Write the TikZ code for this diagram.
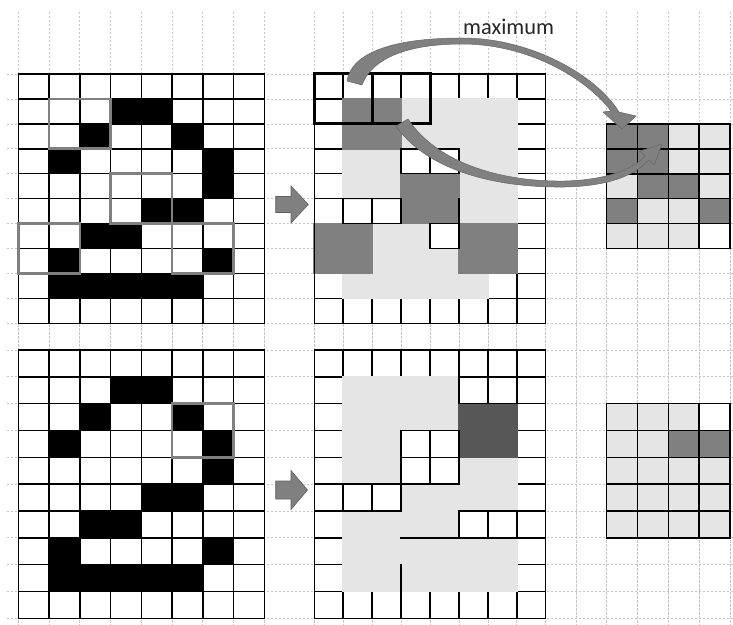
\documentclass[tikz,border=0pt]{standalone}
\usepackage{fontspec}
\newfontfamily\labelfont{Carlito}
\begin{document}
\begin{tikzpicture}[x=1bp,y=-1bp,
  bgline/.style={draw=black!22, line width=0.7bp, dash pattern=on 2.5bp off 1.5bp},
  gridline/.style={draw=black, line width=1.5bp, line cap=rect},
  blackcell/.style={fill=black},
  lightcell/.style={fill=black!10},
  darkcell/.style={fill=black!50},
  darkercell/.style={fill=black!66},
  kernelbox/.style={draw=black!50, line width=2.6bp},
  poolbox/.style={draw=black, line width=3bp},
  blockarrow/.style={fill=black!50, draw=black!62, line width=0.6bp},
  bandarrow/.style={fill=black!50, draw=black!60, line width=0.5bp, line join=round},
]
\def\shadeov{0.9bp}
\useasboundingbox (0,0) rectangle (733,625);
\fill[white] (0,0) rectangle (733,625);

% background sheet grid
\foreach \x in {18.3,49.05,79.8,110.55,141.3,172.05,202.8,233.55,264.3,314.3,343.2,372.15,401.1,430,458.9,487.85,516.8,545.7,576.2,606.7,637.5,668.35,699.2,730}
  \draw[bgline] (\x,12) -- (\x,625);
\foreach \y in {74,98.9,123.9,148.8,173.7,198.7,223.6,248.5,273.4,298.4,323.3,350,376.8,403.7,430.5,457.3,484.2,511,537.8,564.6,591.5,618.3}
  \draw[bgline] (6.7,\y) -- (733,\y);

% ---------- left grids ----------
\foreach \yo/\hh in {74/24.93,350/26.83}{
\begin{scope}[shift={(18.3,\yo)},x=30.75bp,y=-\hh bp]
  \fill[white] (0,0) rectangle (8,10);
  \foreach \c/\r in {3/1,4/1,2/2,5/2,1/3,6/3,6/4,4/5,5/5,2/6,3/6,1/7,6/7,1/8,2/8,3/8,4/8,5/8}
    \fill[blackcell] (\c,\r) rectangle ++(1,1);
  \foreach \i in {0,...,8} \draw[gridline] (\i,0) -- (\i,10);
  \foreach \j in {0,...,10} \draw[gridline] (0,\j) -- (8,\j);
\end{scope}
}
\begin{scope}[shift={(18.3,74)},x=30.75bp,y=-24.93bp]
  \draw[kernelbox] (1,1) rectangle (3,3);
  \draw[kernelbox] (3,4) rectangle (5,6);
  \draw[kernelbox] (0,6) rectangle (2,8);
  \draw[kernelbox] (5,6) rectangle (7,8);
\end{scope}
\begin{scope}[shift={(18.3,350)},x=30.75bp,y=-26.83bp]
  \draw[kernelbox] (5,2) rectangle (7,4);
\end{scope}

% ---------- middle top ----------
\begin{scope}[shift={(314.3,74)},x=28.925bp,y=-24.93bp]
  \fill[white] (0,0) rectangle (8,10);
  \foreach \i in {0,...,8} \draw[gridline] (\i,0) -- (\i,10);
  \foreach \j in {0,...,10} \draw[gridline] (0,\j) -- (8,\j);
  \foreach \c/\r in {3/1,4/1,5/1,6/1,3/2,4/2,5/2,6/2,1/3,2/3,5/3,6/3,1/4,2/4,5/4,6/4,5/5,6/5,2/6,3/6,2/7,3/7,4/7,1/8,2/8,3/8,4/8,5/8}
    \fill[lightcell] ([xshift=-\shadeov,yshift=\shadeov]\c,\r) rectangle ([xshift=\shadeov,yshift=-\shadeov]{\c+1},{\r+1});
  \foreach \c/\r in {1/1,2/1,1/2,2/2,3/4,4/4,3/5,4/5,0/6,1/6,0/7,1/7,5/6,6/6,5/7,6/7}
    \fill[darkcell] ([xshift=-\shadeov,yshift=\shadeov]\c,\r) rectangle ([xshift=\shadeov,yshift=-\shadeov]{\c+1},{\r+1});
  \foreach \c/\r in {3/3,4/3,1/5,2/5,4/6}
    \draw[gridline] (\c,\r) rectangle ++(1,1);
  \draw[gridline] (5,5) -- (5,6);
  \draw[gridline] (0,0) rectangle (8,10);
  \draw[poolbox] (0,0) rectangle (2,2);
  \draw[poolbox] (2,0) rectangle (4,2);
\end{scope}

% ---------- middle bottom ----------
\begin{scope}[shift={(314.3,350)},x=28.925bp,y=-26.83bp]
  \fill[white] (0,0) rectangle (8,10);
  \foreach \i in {0,...,8} \draw[gridline] (\i,0) -- (\i,10);
  \foreach \j in {0,...,10} \draw[gridline] (0,\j) -- (8,\j);
  \foreach \c/\r in {1/1,2/1,3/1,4/1,1/2,2/2,3/2,4/2,1/3,2/3,1/4,2/4,5/4,6/4,3/5,4/5,5/5,6/5,1/6,2/6,3/6,4/6,1/7,2/7,3/7,4/7,5/7,6/7,1/8,2/8,3/8,4/8,5/8,6/8}
    \fill[lightcell] ([xshift=-\shadeov,yshift=\shadeov]\c,\r) rectangle ([xshift=\shadeov,yshift=-\shadeov]{\c+1},{\r+1});
  \foreach \c/\r in {5/2,6/2,5/3,6/3}
    \fill[darkercell] ([xshift=-\shadeov,yshift=\shadeov]\c,\r) rectangle ([xshift=\shadeov,yshift=-\shadeov]{\c+1},{\r+1});
  \foreach \c/\r in {5/1,6/1,3/3,4/3,3/4,4/4,1/5,2/5,5/6,6/6}
    \draw[gridline] (\c,\r) rectangle ++(1,1);
  \draw[gridline] (3,7) -- (5,7);
  \draw[gridline] (3,8) -- (3,9);
  \draw[gridline] (0,0) rectangle (8,10);
\end{scope}

% ---------- right grids ----------
\begin{scope}[shift={(606.7,123.9)},x=30.825bp,y=-24.93bp]
  \fill[white] (0,0) rectangle (4,5);
  \foreach \c/\r in {2/0,3/0,2/1,3/1,0/2,3/2,1/3,2/3,0/4,1/4,2/4}
    \fill[lightcell] (\c,\r) rectangle ++(1,1);
  \foreach \c/\r in {0/0,1/0,0/1,1/1,1/2,2/2,0/3,3/3}
    \fill[darkcell] (\c,\r) rectangle ++(1,1);
  \foreach \i in {0,...,4} \draw[gridline] (\i,0) -- (\i,5);
  \foreach \j in {0,...,5} \draw[gridline] (0,\j) -- (4,\j);
\end{scope}
\begin{scope}[shift={(606.7,403.7)},x=30.825bp,y=-26.83bp]
  \fill[white] (0,0) rectangle (4,5);
  \foreach \c/\r in {0/0,1/0,2/0,0/1,1/1,0/2,1/2,2/2,3/2,0/3,1/3,2/3,3/3,0/4,1/4,2/4,3/4}
    \fill[lightcell] (\c,\r) rectangle ++(1,1);
  \foreach \c/\r in {2/1,3/1}
    \fill[darkcell] (\c,\r) rectangle ++(1,1);
  \foreach \i in {0,...,4} \draw[gridline] (\i,0) -- (\i,5);
  \foreach \j in {0,...,5} \draw[gridline] (0,\j) -- (4,\j);
\end{scope}

% ---------- block arrows ----------
\draw[blockarrow] (275.7,196.5) -- (291,196.5) -- (291,186) -- (308.3,204.5)
  -- (291,223) -- (291,212.5) -- (275.7,212.5) -- cycle;
\draw[blockarrow] (275.7,481) -- (291,481) -- (291,470.5) -- (307.5,490)
  -- (291,509.5) -- (291,499) -- (275.7,499) -- cycle;

% ---------- curved arrows ----------
\draw[bandarrow] (347,81) .. controls (352,50) and (400,38) .. (462,38)
  .. controls (532,38) and (597,76) .. (619,112)
  -- (636,116) -- (622,129) -- (603,112) -- (611,111)
  .. controls (586,78) and (528,44) .. (462,44)
  .. controls (408,44) and (372,58) .. (362,85) -- cycle;
\draw[bandarrow] (396,126) .. controls (425,168) and (490,188) .. (565,187)
  .. controls (610,186) and (635,175) .. (648.8,159.8)
  -- (654.2,165) -- (662,144) -- (639.8,151) -- (645.2,156.2)
  .. controls (632,170) and (605,180) .. (565,181)
  .. controls (495,182) and (435,160) .. (408,119) -- cycle;

\node[anchor=base west, inner sep=0pt, text=black!85, font=\labelfont\fontsize{22.5}{26}\selectfont] (maxlabel) at (463,35) {maximum};
\end{tikzpicture}
\end{document}
